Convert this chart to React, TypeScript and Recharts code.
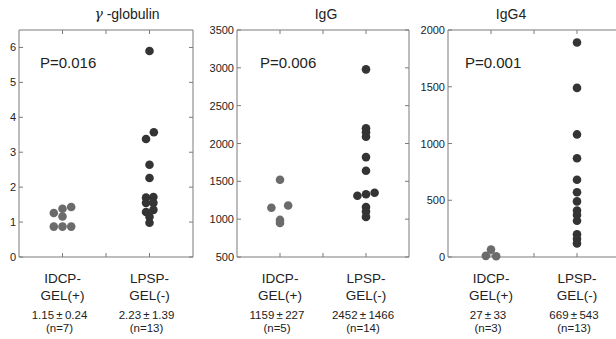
import { ReferenceArea, Scatter, ScatterChart, XAxis, YAxis } from 'recharts';

// category labels under each x tick (x = 1 and x = 3)
const catLine1 = ['IDCP-', 'LPSP-'];
const catLine2 = ['GEL(+)', 'GEL(-)'];
const catTicks = [1, 3];

// γ-globulin
const gammaIdcp = [
  { x: 0.8, y: 1.26 }, { x: 0.8, y: 0.87 },
  { x: 1.0, y: 1.38 }, { x: 1.0, y: 1.16 }, { x: 1.0, y: 0.87 },
  { x: 1.2, y: 1.43 }, { x: 1.2, y: 0.87 }
];
const gammaLpsp = [
  { x: 3.0, y: 5.9 }, { x: 2.92, y: 3.38 }, { x: 3.1, y: 3.57 },
  { x: 3.0, y: 2.64 }, { x: 3.0, y: 2.26 },
  { x: 2.92, y: 1.7 }, { x: 2.92, y: 1.55 }, { x: 2.92, y: 1.29 },
  { x: 3.09, y: 1.72 }, { x: 3.09, y: 1.55 }, { x: 3.09, y: 1.35 },
  { x: 3.0, y: 1.15 }, { x: 3.0, y: 0.98 }
];
const gammaStats = ['1.15\u2009±\u20090.24', '2.23\u2009±\u20091.39'];
const gammaN = ['(n=7)', '(n=13)'];
const gammaTicks = [0, 1, 2, 3, 4, 5, 6];

// IgG
const iggIdcp = [
  { x: 0.8, y: 1150 }, { x: 1.0, y: 1520 }, { x: 1.19, y: 1180 },
  { x: 1.0, y: 990 }, { x: 1.0, y: 950 }
];
const iggLpsp = [
  { x: 3.0, y: 2980 }, { x: 3.0, y: 2200 }, { x: 3.0, y: 2150 }, { x: 3.0, y: 2090 },
  { x: 3.0, y: 1820 }, { x: 3.0, y: 1640 },
  { x: 2.8, y: 1310 }, { x: 3.0, y: 1330 }, { x: 3.2, y: 1350 },
  { x: 3.0, y: 1160 }, { x: 3.0, y: 1100 }, { x: 3.0, y: 1030 }
];
const iggStats = ['1159\u2009±\u2009227', '2452\u2009±\u20091466'];
const iggN = ['(n=5)', '(n=14)'];
const iggTicks = [500, 1000, 1500, 2000, 2500, 3000, 3500];

// IgG4
const igg4Idcp = [{ x: 1.0, y: 65 }, { x: 0.88, y: 10 }, { x: 1.12, y: 6 }];
const igg4Lpsp = [
  1890, 1490, 1080, 870, 680, 570, 490, 410, 370, 320, 200, 160, 120
].map((y) => ({ x: 3.0, y }));
const igg4Stats = ['27\u2009±\u200933', '669\u2009±\u2009543'];
const igg4N = ['(n=3)', '(n=13)'];
const igg4Ticks = [0, 500, 1000, 1500, 2000];

const FONT = '"Liberation Sans", Arial, sans-serif';
const BOX = '#7a7a7a';
const TEXT = '#222';
const IDCP_COLOR = '#6b6b6b';
const LPSP_COLOR = '#343434';
const TOP = 30;
const BOTTOM = 257;

interface PanelProps {
  left: number;
  width: number;
  axisWidth: number;
  marginRight: number;
  yDomain: [number, number];
  yTicks: number[];
  idcp: { x: number; y: number }[];
  lpsp: { x: number; y: number }[];
  stats: string[];
  ns: string[];
}

function Panel({ left, width, axisWidth, marginRight, yDomain, yTicks, idcp, lpsp, stats, ns }: PanelProps) {
  const plotLeft = axisWidth;
  const plotRight = width - marginRight;

  const xTick = (props: any) => {
    const { x, payload } = props;
    const i = catTicks.indexOf(payload.value);
    return (
      <g>
        <line x1={x} x2={x} y1={BOTTOM} y2={BOTTOM - 4} stroke={BOX} />
        <line x1={x} x2={x} y1={TOP} y2={TOP + 4} stroke={BOX} />
        {i >= 0 ? (
          <text textAnchor="middle" fill={TEXT} fontFamily={FONT}>
            <tspan x={x} y={283} fontSize={13.5}>{catLine1[i]}</tspan>
            <tspan x={x} y={300} fontSize={13.5}>{catLine2[i]}</tspan>
            <tspan x={x - 3} y={319} fontSize={11.5}>{stats[i]}</tspan>
            <tspan x={x - 3} y={332} fontSize={11.5}>{ns[i]}</tspan>
          </text>
        ) : null}
      </g>
    );
  };

  const yTick = (props: any) => {
    const { y, payload } = props;
    return (
      <g>
        <line x1={plotLeft} x2={plotLeft + 4} y1={y} y2={y} stroke={BOX} />
        <line x1={plotRight - 4} x2={plotRight} y1={y} y2={y} stroke={BOX} />
        <text x={plotLeft - 3} y={y} dy={4} textAnchor="end" fontSize={11} fill={TEXT} fontFamily={FONT}>
          {payload.value}
        </text>
      </g>
    );
  };

  return (
    <div style={{ position: 'absolute', left, top: 0 }}>
      <ScatterChart width={width} height={339} margin={{ top: TOP, right: marginRight, bottom: 0, left: 0 }}>
        <XAxis
          type="number"
          dataKey="x"
          domain={[0, 4]}
          ticks={[1, 2, 3]}
          interval={0}
          height={339 - BOTTOM}
          axisLine={false}
          tickLine={false}
          tick={xTick}
        />
        <YAxis
          type="number"
          dataKey="y"
          domain={yDomain}
          ticks={yTicks}
          interval={0}
          width={axisWidth}
          axisLine={false}
          tickLine={false}
          tick={yTick}
        />
        <ReferenceArea
          x1={0}
          x2={4}
          y1={yDomain[0]}
          y2={yDomain[1]}
          fill="none"
          fillOpacity={0}
          stroke={BOX}
          strokeWidth={1}
        />
        <Scatter
          data={idcp}
          isAnimationActive={false}
          shape={(p: any) => <circle cx={p.cx} cy={p.cy} r={4.3} fill={IDCP_COLOR} />}
        />
        <Scatter
          data={lpsp}
          isAnimationActive={false}
          shape={(p: any) => <circle cx={p.cx} cy={p.cy} r={4.3} fill={LPSP_COLOR} />}
        />
      </ScatterChart>
    </div>
  );
}

export default function App() {
  return (
    <div
      style={{
        position: 'absolute',
        left: 0,
        top: 0,
        width: 616,
        height: 339,
        overflow: 'hidden',
        background: '#fff'
      }}
    >
      <Panel
        left={0}
        width={210}
        axisWidth={19}
        marginRight={17}
        yDomain={[0, 6.5]}
        yTicks={gammaTicks}
        idcp={gammaIdcp}
        lpsp={gammaLpsp}
        stats={gammaStats}
        ns={gammaN}
      />
      <Panel
        left={205}
        width={210}
        axisWidth={32}
        marginRight={6}
        yDomain={[500, 3500]}
        yTicks={iggTicks}
        idcp={iggIdcp}
        lpsp={iggLpsp}
        stats={iggStats}
        ns={iggN}
      />
      <Panel
        left={410}
        width={212}
        axisWidth={38}
        marginRight={2}
        yDomain={[0, 2000]}
        yTicks={igg4Ticks}
        idcp={igg4Idcp}
        lpsp={igg4Lpsp}
        stats={igg4Stats}
        ns={igg4N}
      />
      <svg
        width={616}
        height={339}
        style={{ position: 'absolute', left: 0, top: 0, pointerEvents: 'none' }}
        fontFamily={FONT}
        fill={TEXT}
      >
        <text x={127} y={19} textAnchor="middle" fontSize={14}>
          <tspan fontStyle="italic" fontFamily='"DejaVu Serif", serif'>γ</tspan> -globulin
        </text>
        <text x={326} y={19} textAnchor="middle" fontSize={14}>IgG</text>
        <text x={511} y={19} textAnchor="middle" fontSize={14}>IgG4</text>
        <text x={40} y={68} fontSize={15}>P=0.016</text>
        <text x={260} y={68} fontSize={15}>P=0.006</text>
        <text x={465} y={68} fontSize={15}>P=0.001</text>
      </svg>
    </div>
  );
}
